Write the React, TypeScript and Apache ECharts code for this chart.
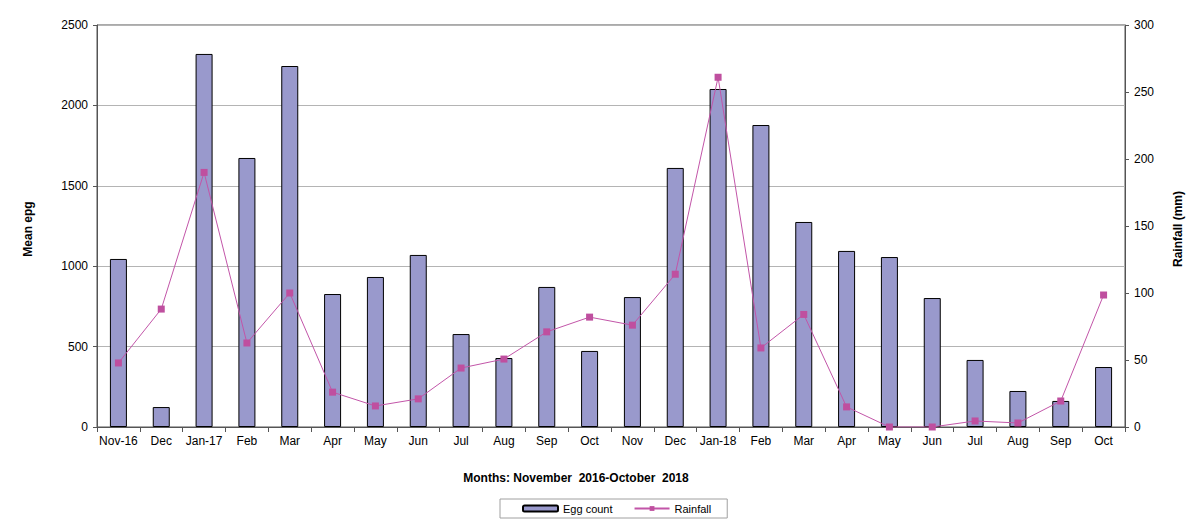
import React, { useEffect, useRef } from "react";
import * as echarts from "echarts";

const months = ["Nov-16","Dec","Jan-17","Feb","Mar","Apr","May","Jun","Jul","Aug","Sep","Oct","Nov","Dec","Jan-18","Feb","Mar","Apr","May","Jun","Jul","Aug","Sep","Oct"];
const eggCount = [1045,124,2320,1673,2245,827,933,1070,578,429,871,473,808,1611,2102,1878,1275,1095,1057,802,417,224,162,373];
const rainfall = [47.8,88,190,62.7,100,26,15.7,21,44,50.7,71,82,76,114,261,59,84,15,0,0,4.5,3,19.4,98.5];

const FONT = "'Liberation Sans', Arial, sans-serif";

export default function App() {
  const ref = useRef<HTMLDivElement>(null);
  useEffect(() => {
    const chart = echarts.init(ref.current!, null, { renderer: "svg" });
    chart.setOption({
      animation: false,
      textStyle: { fontFamily: FONT },
      grid: { left: 97, right: 75, top: 25, bottom: 102, show: true, borderColor: "#555", borderWidth: 1, backgroundColor: "transparent" },
      legend: {
        left: 500, top: 499,
        padding: [4, 16, 4, 22],
        borderColor: "#a0a0a0", borderWidth: 1,
        itemWidth: 35, itemHeight: 6, itemGap: 21,
        textStyle: { fontFamily: FONT, fontSize: 11, color: "#000" },
        data: ["Egg count", "Rainfall"],
      },
      xAxis: {
        type: "category",
        data: months,
        boundaryGap: true,
        axisLine: { lineStyle: { color: "#555" } },
        axisTick: { show: true, inside: false, length: 5, lineStyle: { color: "#555" } },
        axisLabel: { color: "#000", fontSize: 12, fontFamily: FONT, margin: 8, interval: 0 },
      },
      yAxis: [
        {
          type: "value", min: 0, max: 2500, interval: 500,
          axisLine: { show: true, lineStyle: { color: "#555" } },
          axisTick: { show: true, length: 4, lineStyle: { color: "#555" } },
          axisLabel: { color: "#000", fontSize: 12, fontFamily: FONT, margin: 9, formatter: (v: number) => String(v) },
          splitLine: { show: true, lineStyle: { color: "#b4b4b4", width: 1 } },
        },
        {
          type: "value", min: 0, max: 300, interval: 50, position: "right",
          axisLine: { show: true, lineStyle: { color: "#555" } },
          axisTick: { show: true, length: 4, lineStyle: { color: "#555" } },
          axisLabel: { color: "#000", fontSize: 12, fontFamily: FONT, margin: 9, formatter: (v: number) => String(v) },
          splitLine: { show: false },
        },
      ],
      series: [
        {
          name: "Egg count", type: "bar", data: eggCount, yAxisIndex: 0,
          barWidth: 17,
          itemStyle: { color: "#9999CC", borderColor: "#000", borderWidth: 1 },
        },
        {
          name: "Rainfall", type: "line", data: rainfall, yAxisIndex: 1,
          symbol: "rect", symbolSize: 7,
          lineStyle: { color: "#C255A8", width: 1 },
          itemStyle: { color: "#BF4F9F" },
        },
      ],
      graphic: [
        { type: "text", x: 576, y: 478, style: { text: "Months: November  2016-October  2018", font: `bold 12px ${FONT}`, fill: "#000", textAlign: "center", textVerticalAlign: "middle" } },
        { type: "text", x: 28, y: 229, rotation: Math.PI / 2, style: { text: "Mean epg", font: `bold 12px ${FONT}`, fill: "#000", textAlign: "center", textVerticalAlign: "middle" } },
        { type: "text", x: 1178, y: 229, rotation: Math.PI / 2, style: { text: "Rainfall (mm)", font: `bold 12px ${FONT}`, fill: "#000", textAlign: "center", textVerticalAlign: "middle" } },
      ],
    });
    return () => chart.dispose();
  }, []);
  return <div ref={ref} style={{ width: 1200, height: 529, position: "absolute", left: 0, top: 0 }} />;
}
